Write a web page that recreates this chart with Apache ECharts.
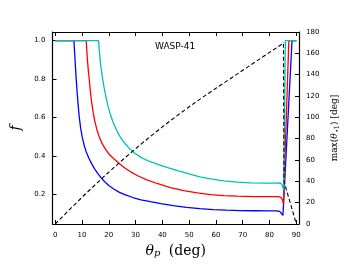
<!DOCTYPE html>
<html>
<head>
<meta charset="utf-8">
<script src="https://cdn.jsdelivr.net/npm/echarts@6/dist/echarts.min.js"></script>
<style>html,body{margin:0;padding:0;background:#fff}#c{width:352px;height:264px}</style>
</head>
<body>
<div id="c"></div>
<script>
// Data
const blueTheta = [0, 7.0, 7.2, 7.5, 7.8, 8.2, 8.6, 9.0, 9.5, 10.1, 10.8, 11.6, 12.5, 13.5, 14.6, 15.8, 17.0, 18.5, 20, 22, 24, 26.5, 29, 32, 35.5, 39.5, 44, 49, 54, 59, 64, 69, 74, 79, 82.5, 83.8, 84.5, 85.0, 88.4, 90];
const blueF     = [1, 1.0, 0.95, 0.88, 0.81, 0.73, 0.66, 0.6, 0.545, 0.497, 0.456, 0.42, 0.39, 0.362, 0.335, 0.31, 0.288, 0.265, 0.246, 0.226, 0.21, 0.195, 0.183, 0.171, 0.161, 0.151, 0.141, 0.132, 0.125, 0.12, 0.117, 0.115, 0.114, 0.113, 0.113, 0.111, 0.104, 0.09, 1.0, 1.0];
const redTheta  = [0, 11.6, 11.8, 12.1, 12.4, 12.7, 13.1, 13.6, 14.2, 14.8, 15.5, 16.3, 17.3, 18.5, 20, 22, 24, 26, 28, 31, 34, 38, 43, 48, 53, 58, 63, 68, 74, 80, 83.3, 84.2, 84.8, 85.2, 87.2, 90];
const redF      = [1, 1.0, 0.95, 0.89, 0.84, 0.8, 0.74, 0.68, 0.625, 0.58, 0.54, 0.505, 0.47, 0.44, 0.41, 0.384, 0.359, 0.337, 0.318, 0.295, 0.276, 0.256, 0.235, 0.219, 0.207, 0.198, 0.193, 0.19, 0.188, 0.188, 0.188, 0.184, 0.172, 0.15, 1.0, 1.0];
const cyanTheta = [0, 16.2, 16.4, 16.7, 17.1, 17.6, 18.2, 18.9, 19.7, 20.6, 21.6, 22.8, 24.2, 25.8, 27.6, 29.6, 32, 35, 38.5, 42, 46, 50, 54, 58, 63, 68, 73, 78, 82, 83.8, 84.6, 85.3, 85.9, 90];
const cyanF     = [1, 1.0, 0.96, 0.91, 0.86, 0.81, 0.76, 0.71, 0.66, 0.615, 0.575, 0.537, 0.5, 0.468, 0.44, 0.415, 0.392, 0.372, 0.354, 0.339, 0.322, 0.306, 0.291, 0.28, 0.27, 0.263, 0.259, 0.258, 0.258, 0.259, 0.252, 0.22, 1.0, 1.0];
const maxTheta  = [0, 5, 10, 15, 20, 25, 30, 35, 40, 45, 50, 55, 60, 65, 70, 75, 80, 85.2, 85.4, 90];
const maxVal    = [0, 12.6, 25, 37, 48.6, 59.8, 70.6, 81, 91, 100.7, 109.9, 118.7, 127.2, 135.7, 144.1, 152.5, 160.9, 169.5, 40, 0];
const xTicks = [0, 10, 20, 30, 40, 50, 60, 70, 80, 90];
const fTicks = [0.2, 0.4, 0.6, 0.8, 1.0];

const zip = (a, b) => a.map((v, i) => [v, b[i]]);
const chart = echarts.init(document.getElementById('c'), null, {renderer: 'canvas'});
const axLine = {show: true, onZero: false, lineStyle: {color: '#000', width: 1.2}};
const tick = {show: true, inside: true, length: 4, lineStyle: {color: '#000', width: 1}};
const lbl = {color: '#000', fontSize: 7, fontFamily: 'DejaVu Sans'};
chart.setOption({
  animation: false,
  backgroundColor: '#fff',
  grid: {left: 52.5, right: 53, top: 32, bottom: 40, containLabel: false},
  graphic: [{type: 'text', left: 155, top: 42, style: {text: 'WASP-41', fontSize: 9, fontFamily: 'DejaVu Sans', fill: '#000'}}],
  xAxis: [
    {type: 'value', min: -1, max: 91, position: 'bottom', axisLine: axLine,
     axisTick: Object.assign({customValues: xTicks}, tick),
     axisLabel: Object.assign({customValues: xTicks, margin: 8}, lbl),
     splitLine: {show: false},
     name: '{i|θ}{s|p} (deg)', nameLocation: 'middle', nameGap: 17,
     nameTextStyle: {fontFamily: 'DejaVu Serif', fontSize: 14, color: '#000',
       rich: {i: {fontFamily: 'DejaVu Serif', fontStyle: 'italic', fontSize: 14}, s: {fontFamily: 'DejaVu Serif', fontStyle: 'italic', fontSize: 10, verticalAlign: 'bottom', padding: [6, 4, 0, 0]}}}},
    {type: 'value', min: -1, max: 91, position: 'top', axisLine: axLine,
     axisTick: Object.assign({customValues: xTicks}, tick),
     axisLabel: {show: false}, splitLine: {show: false}}
  ],
  yAxis: [
    {type: 'value', min: 0.045, max: 1.045, position: 'left', axisLine: axLine,
     axisTick: Object.assign({customValues: fTicks}, tick),
     axisLabel: Object.assign({customValues: fTicks, margin: 7, formatter: v => v.toFixed(1)}, lbl),
     splitLine: {show: false},
     name: 'f', nameLocation: 'middle', nameGap: 22, nameRotate: 90,
     nameTextStyle: {fontFamily: 'DejaVu Serif', fontStyle: 'italic', fontSize: 14, color: '#000'}},
    {type: 'value', min: 0, max: 180, interval: 20, position: 'right', axisLine: axLine,
     axisTick: tick, axisLabel: Object.assign({margin: 7}, lbl), splitLine: {show: false},
     name: 'max({i|θ}{s|⋆1}) [deg]', nameLocation: 'middle', nameGap: 20, nameRotate: 90,
     nameTextStyle: {fontFamily: 'DejaVu Serif', fontSize: 9, color: '#000',
       rich: {i: {fontFamily: 'DejaVu Serif', fontStyle: 'italic', fontSize: 9}, s: {fontFamily: 'DejaVu Serif', fontSize: 7, verticalAlign: 'bottom', padding: [4, 0, 0, 0]}}}}
  ],
  series: [
    {type: 'line', data: zip(blueTheta, blueF), xAxisIndex: 0, yAxisIndex: 0, showSymbol: false, lineStyle: {color: '#0000ff', width: 1.3}},
    {type: 'line', data: zip(redTheta, redF), xAxisIndex: 0, yAxisIndex: 0, showSymbol: false, lineStyle: {color: '#ff0000', width: 1.3}},
    {type: 'line', data: zip(cyanTheta, cyanF), xAxisIndex: 0, yAxisIndex: 0, showSymbol: false, lineStyle: {color: '#00bfbf', width: 1.3}},
    {type: 'line', data: zip(maxTheta, maxVal), xAxisIndex: 0, yAxisIndex: 1, showSymbol: false, lineStyle: {color: '#000', width: 1.1, type: [4, 2.5]}}
  ]
});
</script>
</body>
</html>
